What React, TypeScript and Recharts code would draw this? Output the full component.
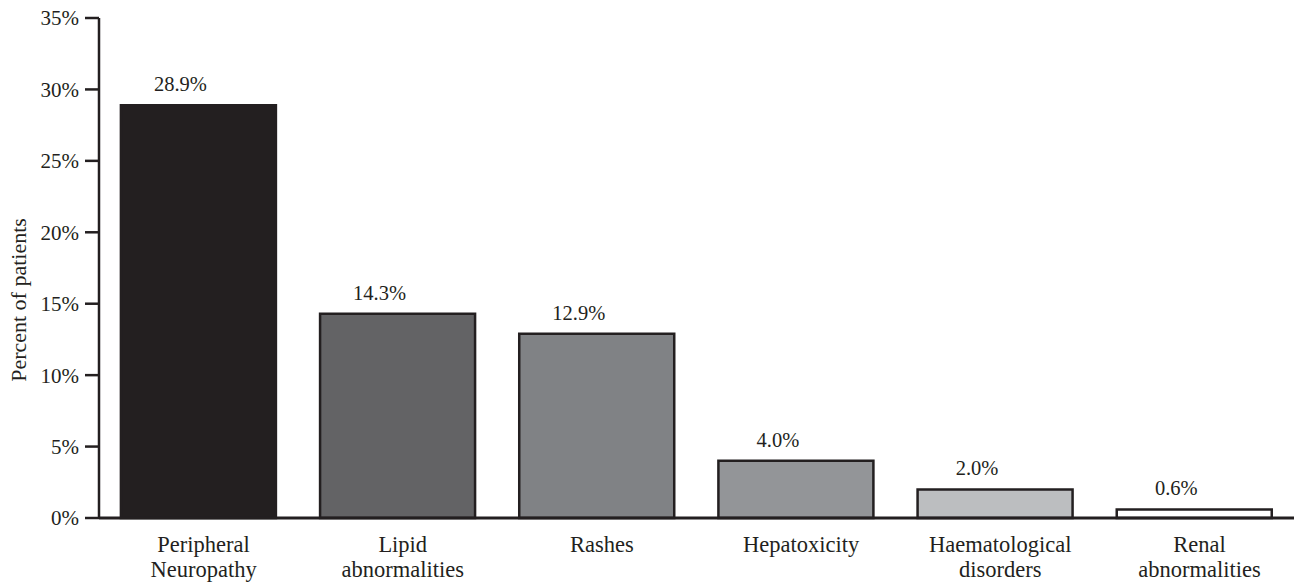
import React from 'react';
import { BarChart, Bar, XAxis, YAxis, Cell, LabelList } from 'recharts';

const categories = ['Peripheral\nNeuropathy', 'Lipid\nabnormalities', 'Rashes', 'Hepatoxicity', 'Haematological\ndisorders', 'Renal\nabnormalities'];
const values = [28.9, 14.3, 12.9, 4.0, 2.0, 0.6];
const fills = ['#231f20', '#636365', '#808285', '#939598', '#bcbec0', '#ffffff'];
const yTicks = [0, 5, 10, 15, 20, 25, 30, 35];
const boundaryTicks = [0, 1, 2, 3, 4, 5, 6];

const data = categories.map((c, i) => ({ name: c, value: values[i] }));
const FONT = '"Liberation Serif", "DejaVu Serif", serif';
const INK = '#231f20';

const CatTick = (props: any) => {
  const { x, y, payload } = props;
  const lines = String(payload.value).split('\n');
  return (
    <text x={x + 5} y={y} textAnchor="middle" fontFamily={FONT} fontSize={22.5} fill={INK}>
      {lines.map((l, i) => (
        <tspan key={i} x={x + 5} dy={i === 0 ? 26 : 24.5}>{l}</tspan>
      ))}
    </text>
  );
};

export default function App() {
  return (
    <div style={{ position: 'absolute', left: 0, top: 0, background: '#fff' }}>
      <BarChart
        width={1308}
        height={584}
        data={data}
        margin={{ top: 18, right: 14, left: 0, bottom: 0 }}
        barCategoryGap="11%"
      >
        <XAxis
          xAxisId="b"
          type="number"
          domain={[0, 6]}
          ticks={boundaryTicks}
          axisLine={false}
          tickLine={{ stroke: INK, strokeWidth: 2.5 }}
          tickSize={10}
          tick={() => <g />}
          height={0}
        />
        <XAxis
          xAxisId="a"
          dataKey="name"
          type="category"
          axisLine={{ stroke: INK, strokeWidth: 3 }}
          tickLine={false}
          tick={<CatTick />}
          height={66}
          interval={0}
        />
        <YAxis
          domain={[0, 35]}
          ticks={yTicks}
          width={99}
          axisLine={{ stroke: INK, strokeWidth: 2.5 }}
          tickLine={{ stroke: INK, strokeWidth: 2.5 }}
          tickSize={14}
          tickMargin={6}
          tickFormatter={(v: number) => `${v}%`}
          tick={{ fontFamily: FONT, fontSize: 21, fill: INK }}
          label={{
            value: 'Percent of patients',
            angle: -90,
            position: 'insideLeft',
            dx: 13,
            dy: 32,
            style: { fontFamily: FONT, fontSize: 22, fill: INK, textAnchor: 'middle' },
          }}
        />
        <Bar
          xAxisId="a"
          dataKey="value"
          stroke={INK}
          strokeWidth={2.5}
          isAnimationActive={false}
        >
          {data.map((d, i) => (
            <Cell key={i} fill={fills[i]} />
          ))}
          <LabelList
            dataKey="value"
            position="top"
            offset={14}
            dx={-18}
            formatter={(v: any) => `${Number(v).toFixed(1)}%`}
            style={{ fontFamily: FONT, fontSize: 20.5, fill: INK }}
          />
        </Bar>
      </BarChart>
    </div>
  );
}
